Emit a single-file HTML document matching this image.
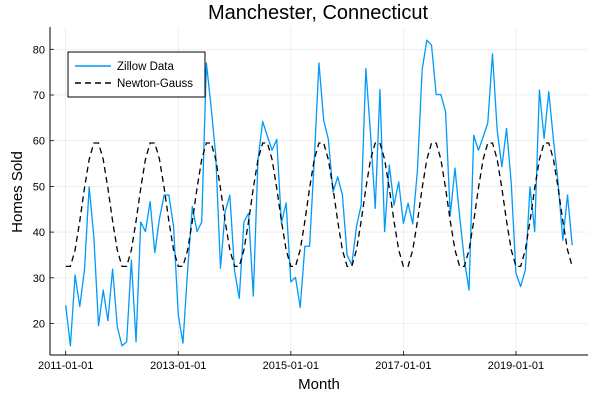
<!DOCTYPE html>
<html><head><meta charset="utf-8">
<style>
html,body{margin:0;padding:0;background:#fff;}
svg{display:block;font-family:"Liberation Sans","DejaVu Sans",sans-serif;}
</style></head>
<body>
<svg id="chart" width="600" height="400" viewBox="0 0 600 400" xmlns="http://www.w3.org/2000/svg">
<rect width="600" height="400" fill="#fff"/>
<text x="318" y="19" font-size="20" text-anchor="middle" fill="#000">Manchester, Connecticut</text>
<text x="22" y="192" font-size="15" text-anchor="middle" transform="rotate(-90 22 192)" fill="#000">Homes Sold</text>
<text x="319" y="389" font-size="15" text-anchor="middle" fill="#000">Month</text>
<g id="grid"></g>
<g id="axes"></g>
<g id="series"></g>
<g id="legend">
  <rect x="68" y="52" width="137" height="45" fill="#fff" stroke="#000" stroke-width="1"/>
  <line x1="75" y1="66" x2="111" y2="66" stroke="#009af9" stroke-width="1.5"/>
  <text x="117" y="70" font-size="11.5">Zillow Data</text>
  <line x1="75" y1="83" x2="111" y2="83" stroke="#000" stroke-width="1.5" stroke-dasharray="6,4"/>
  <text x="117" y="87" font-size="11.5">Newton-Gauss</text>
</g>
</svg>
<script>
const zillow = [24.0,15.1,30.6,23.7,31.7,49.9,39.0,19.5,27.3,20.6,31.9,19.3,
15.1,16.0,33.9,16.0,42.2,40.1,46.7,35.5,43.0,48.1,48.1,41.2,
21.9,15.7,31.7,45.6,40.1,42.2,77.0,67.4,56.7,32.1,44.5,48.1,
31.6,25.5,42.2,44.1,26.0,55.8,64.2,61.0,57.9,60.3,41.9,46.4,
29.1,30.1,23.5,36.9,36.9,55.8,77.0,64.5,60.3,48.8,52.1,48.1,
35.0,32.8,41.2,45.9,75.8,61.4,45.2,71.2,40.1,54.7,45.9,51.0,
41.9,46.3,41.8,53.6,75.5,82.0,80.9,70.1,70.1,66.3,43.7,54.0,
43.4,33.9,27.3,61.2,57.9,60.8,63.9,79.0,62.3,54.3,62.7,50.7,
31.0,28.1,31.7,49.9,40.1,71.1,60.5,70.7,60.2,50.7,38.2,48.1,37.1];
const newtonGauss = [32.5,32.5,36.1,42.4,49.6,55.9,59.5,59.5,55.9,49.6,42.4,36.1,
32.5,32.5,36.1,42.4,49.6,55.9,59.5,59.5,55.9,49.6,42.4,36.1,
32.5,32.5,36.1,42.4,49.6,55.9,59.5,59.5,55.9,49.6,42.4,36.1,
32.5,32.5,36.1,42.4,49.6,55.9,59.5,59.5,55.9,49.6,42.4,36.1,
32.5,32.5,36.1,42.4,49.6,55.9,59.5,59.5,55.9,49.6,42.4,36.1,
32.5,32.5,36.1,42.4,49.6,55.9,59.5,59.5,55.9,49.6,42.4,36.1,
32.5,32.5,36.1,42.4,49.6,55.9,59.5,59.5,55.9,49.6,42.4,36.1,
32.5,32.5,36.1,42.4,49.6,55.9,59.5,59.5,55.9,49.6,42.4,36.1,
32.5,32.5,36.1,42.4,49.6,55.9,59.5,59.5,55.9,49.6,42.4,36.1,32.5];
const yTicks = [20,30,40,50,60,70,80];
const xTickMonths = [0,24,48,72,96];
const xTickLabels = ["2011-01-01","2013-01-01","2015-01-01","2017-01-01","2019-01-01"];

const NS="http://www.w3.org/2000/svg";
const L=50,R=588,T=27,B=355;
function xs(m){return 65.7+m*4.69;}
function ys(v){return 323.5-(v-20)*4.57;}
function mk(tag,attrs,parent){const e=document.createElementNS(NS,tag);for(const k in attrs)e.setAttribute(k,attrs[k]);parent.appendChild(e);return e;}
const grid=document.getElementById('grid'),axes=document.getElementById('axes'),series=document.getElementById('series');

yTicks.forEach(v=>{
  const y=ys(v);
  const g=mk('line',{x1:L,x2:R,y1:y,y2:y,stroke:'#000','stroke-opacity':0.1,'stroke-width':0.6},grid);
  
  
  const t=mk('line',{x1:L,x2:L+4,y1:y,y2:y,stroke:'#000','stroke-width':0.8},axes);
  
  
  const lb=mk('text',{x:L-5,y:y+4,'font-size':11,'text-anchor':'end'},axes);
  lb.textContent=v;
  
  
});
xTickMonths.forEach((m,i)=>{
  const x=xs(m);
  const g=mk('line',{x1:x,x2:x,y1:T,y2:B,stroke:'#000','stroke-opacity':0.1,'stroke-width':0.6},grid);
  
  
  const t=mk('line',{x1:x,x2:x,y1:B,y2:B-4,stroke:'#000','stroke-width':0.8},axes);
  
  
  const lb=mk('text',{x:x,y:B+14,'font-size':11,'text-anchor':'middle'},axes);
  lb.textContent=xTickLabels[i];
  
  
});
const ax1=mk('line',{x1:L,x2:L,y1:T,y2:B,stroke:'#000','stroke-width':1},axes);


const ax2=mk('line',{x1:L,x2:R,y1:B,y2:B,stroke:'#000','stroke-width':1},axes);



const p1=mk('polyline',{points:zillow.map((v,i)=>xs(i)+','+ys(v)).join(' '),fill:'none',stroke:'#009af9','stroke-width':1.3,'stroke-linejoin':'round'},series);


const p2=mk('polyline',{points:newtonGauss.map((v,i)=>xs(i)+','+ys(v)).join(' '),fill:'none',stroke:'#000','stroke-width':1.3,'stroke-dasharray':'6,4'},series);


</script>
</body></html>
